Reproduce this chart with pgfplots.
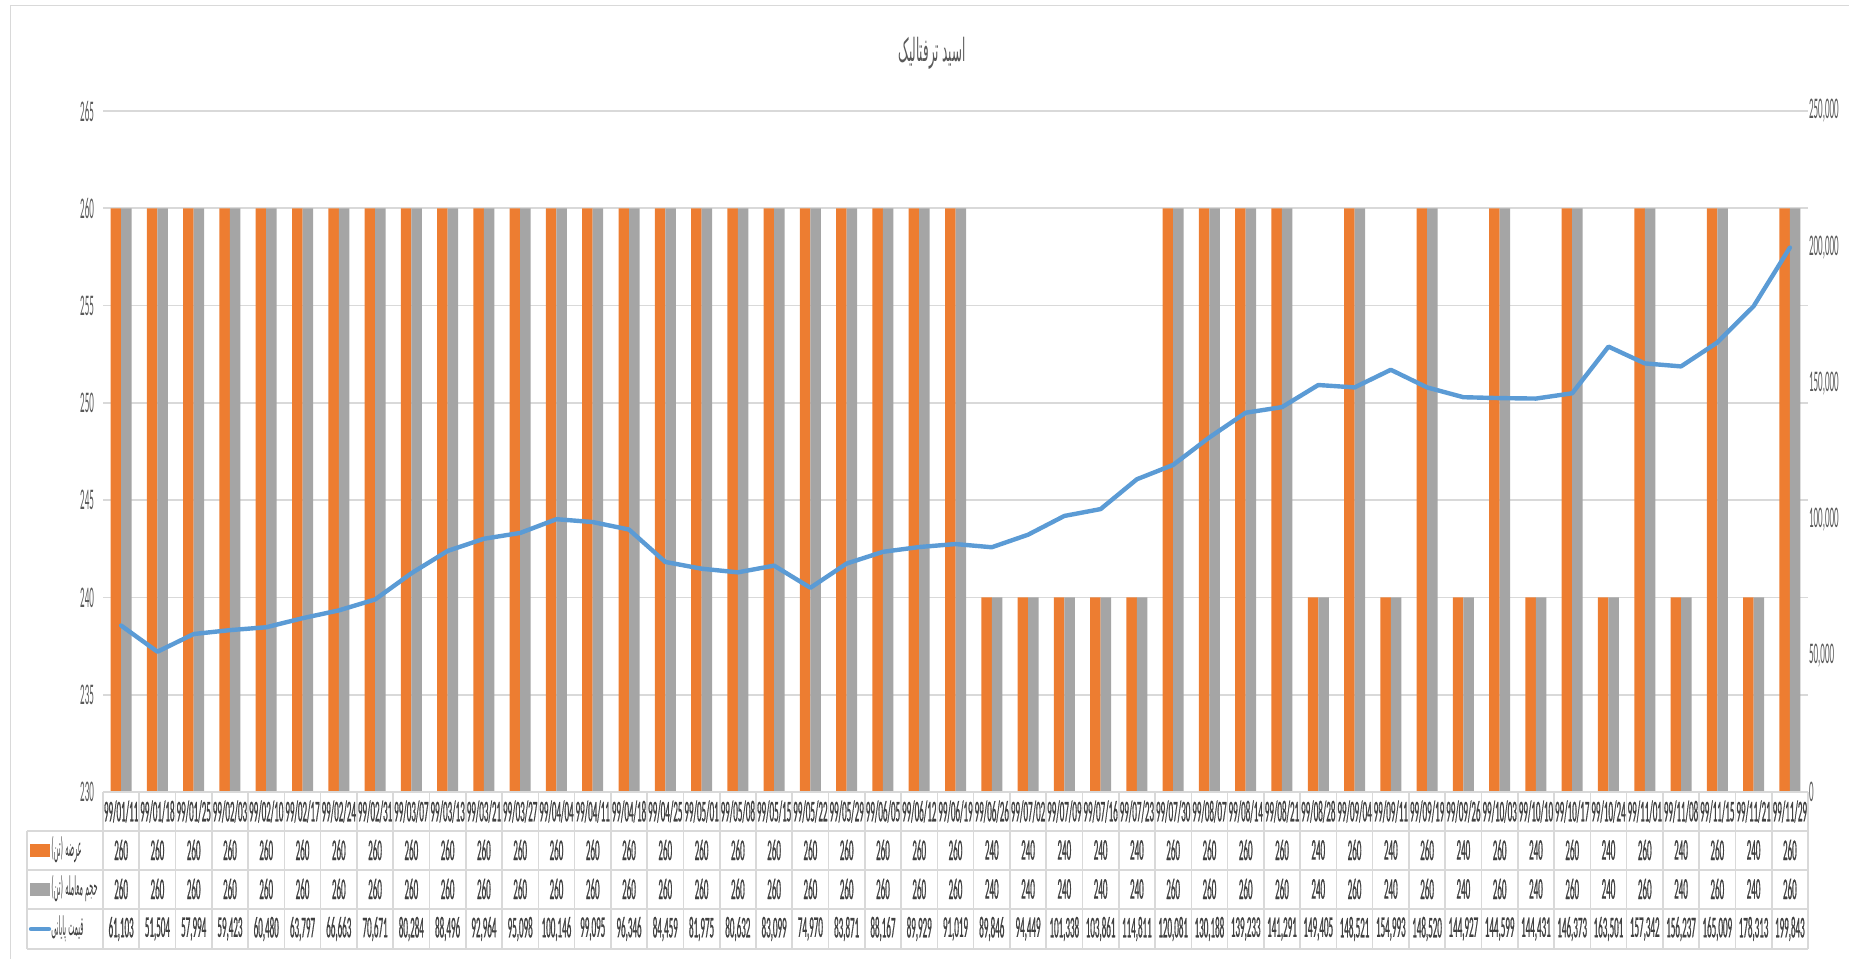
\documentclass[border=0pt]{standalone}
\usepackage{fontspec}
\setmainfont{Carlito}[FakeStretch=0.30]
\newfontfamily\cellfont{Carlito}[FakeStretch=0.30, FakeBold=0.6]
\newfontfamily\arabicfont[Script=Arabic,FakeStretch=0.25]{DejaVu Sans}
\newfontfamily\titlefont[Script=Arabic,FakeStretch=0.37]{DejaVu Sans}
\TeXXeTstate=1
\usepackage{pgfplots}
\usepackage{pgfplotstable}
\pgfplotsset{compat=1.18}
\pgfkeys{/pgf/number format/assume math mode=true}
\definecolor{sorange}{HTML}{ED7D31}
\definecolor{sgray}{HTML}{A5A5A5}
\definecolor{sblue}{HTML}{5B9BD5}
\definecolor{gridc}{HTML}{D9D9D9}
\definecolor{txt}{HTML}{595959}
\definecolor{celltxt}{HTML}{404040}
\newcommand\tfont{\fontsize{15}{16}\selectfont}
\newcommand\cfont{\cellfont\fontsize{15}{16}\selectfont}

\pgfplotstableread{
x date supply volume price
1 99/01/11 260 260 61103
2 99/01/18 260 260 51504
3 99/01/25 260 260 57994
4 99/02/03 260 260 59423
5 99/02/10 260 260 60480
6 99/02/17 260 260 63797
7 99/02/24 260 260 66663
8 99/02/31 260 260 70671
9 99/03/07 260 260 80284
10 99/03/13 260 260 88496
11 99/03/21 260 260 92964
12 99/03/27 260 260 95098
13 99/04/04 260 260 100146
14 99/04/11 260 260 99095
15 99/04/18 260 260 96346
16 99/04/25 260 260 84459
17 99/05/01 260 260 81975
18 99/05/08 260 260 80632
19 99/05/15 260 260 83099
20 99/05/22 260 260 74970
21 99/05/29 260 260 83871
22 99/06/05 260 260 88167
23 99/06/12 260 260 89929
24 99/06/19 260 260 91019
25 99/06/26 240 240 89846
26 99/07/02 240 240 94449
27 99/07/09 240 240 101338
28 99/07/16 240 240 103861
29 99/07/23 240 240 114811
30 99/07/30 260 260 120081
31 99/08/07 260 260 130188
32 99/08/14 260 260 139233
33 99/08/21 260 260 141291
34 99/08/28 240 240 149405
35 99/09/04 260 260 148521
36 99/09/11 240 240 154993
37 99/09/19 260 260 148520
38 99/09/26 240 240 144927
39 99/10/03 260 260 144599
40 99/10/10 240 240 144431
41 99/10/17 260 260 146373
42 99/10/24 240 240 163501
43 99/11/01 260 260 157342
44 99/11/08 240 240 156237
45 99/11/15 260 260 165009
46 99/11/21 240 240 178313
47 99/11/29 260 260 199843
}\datatable

\begin{document}
\begin{tikzpicture}
% 1 px of the reference = 0.5pt; axis box lower left at the origin
\path[use as bounding box] (-51.5pt,-83.5pt) rectangle (873pt,396pt);
\draw[gridc, line width=0.8pt] (-46.25pt,-83.5pt) -- (-46.25pt,393.25pt) -- (873pt,393.25pt);

\begin{axis}[
  scale only axis, width=852.5pt, height=340.5pt,
  xmin=0.5, xmax=47.5, ymin=230, ymax=265, ytick={230,235,...,265},
  ybar=0pt, bar width=5.25pt,
  axis line style={draw=none}, tick style={draw=none}, major tick length=0pt,
  ymajorgrids, grid style={gridc, line width=0.85pt},
  xtick=data, xticklabels from table={\datatable}{date},
  x tick label style={anchor=center, yshift=-9.75pt, font=\cfont, text=celltxt, inner sep=0pt},
  y tick label style={font=\tfont, text=txt, xshift=-1pt},
]
\addplot[fill=sorange, draw=none] table[x=x, y=supply] {\datatable};
\addplot[fill=sgray, draw=none] table[x=x, y=volume] {\datatable};
\end{axis}

\begin{axis}[
  scale only axis, width=852.5pt, height=340.5pt,
  xmin=0.5, xmax=47.5, ymin=0, ymax=250000, ytick={0,50000,...,250000},
  axis x line=none, axis y line*=right,
  axis line style={draw=none}, tick style={draw=none}, major tick length=0pt,
  scaled y ticks=false,
  yticklabel style={font=\tfont, text=txt, xshift=-3pt,
    /pgf/number format/.cd, fixed, 1000 sep={,}},
]
\addplot[sblue, line width=2.2pt, line join=round, line cap=round] table[x=x, y=price] {\datatable};
\end{axis}

% data table under the plot
\pgfmathsetmacro{\cw}{852.5/47}
\begin{scope}[gridc, line width=0.8pt]
\draw (0,0) -- (852.5pt,0);
\foreach \yy in {-19.5,-39,-58.5,-78.5} \draw (-38pt,\yy pt) -- (852.5pt,\yy pt);
\draw (-38pt,-19.5pt) -- (-38pt,-78.5pt);
\foreach \k in {0,...,47} \draw ({\k*\cw pt},0) -- ({\k*\cw pt},-78.5pt);
\end{scope}
\pgfplotstableforeachcolumnelement{supply}\of\datatable\as\val{%
  \node[font=\cfont, text=celltxt, inner sep=0pt] at ({(\pgfplotstablerow+0.5)*\cw pt},-29pt) {\val};}
\pgfplotstableforeachcolumnelement{volume}\of\datatable\as\val{%
  \node[font=\cfont, text=celltxt, inner sep=0pt] at ({(\pgfplotstablerow+0.5)*\cw pt},-48.5pt) {\val};}
\pgfplotstableforeachcolumnelement{price}\of\datatable\as\val{%
  \node[font=\cfont, text=celltxt, inner sep=0pt] at ({(\pgfplotstablerow+0.5)*\cw pt},-68.5pt) {\pgfmathprintnumber[fixed,1000 sep={,}]{\val}};}

% row headers with legend keys
\fill[sorange] (-36.5pt,-26pt) rectangle (-26.5pt,-32.5pt);
\fill[sgray] (-36.5pt,-45.5pt) rectangle (-26.5pt,-52pt);
\draw[sblue, line width=2.2pt, line cap=round] (-36pt,-68.5pt) -- (-27pt,-68.5pt);
\node[anchor=west, inner sep=0.5pt, text=celltxt, font=\fontsize{13}{14}\selectfont] at (-26.5pt,-29pt) {\arabicfont\beginR عرضه (تن)\endR};
\node[anchor=west, inner sep=0.5pt, text=celltxt, font=\fontsize{13}{14}\selectfont] at (-26.5pt,-48.5pt) {\arabicfont\beginR حجم معامله (تن)\endR};
\node[anchor=west, inner sep=0.5pt, text=celltxt, font=\fontsize{13}{14}\selectfont] at (-26.5pt,-68.5pt) {\arabicfont\beginR قیمت پایانی\endR};

% title
\node[text=txt, font=\fontsize{16}{17}\selectfont] at (414.5pt,369.5pt) {\titlefont\beginR اسید ترفتالیک\endR};
\end{tikzpicture}
\end{document}
